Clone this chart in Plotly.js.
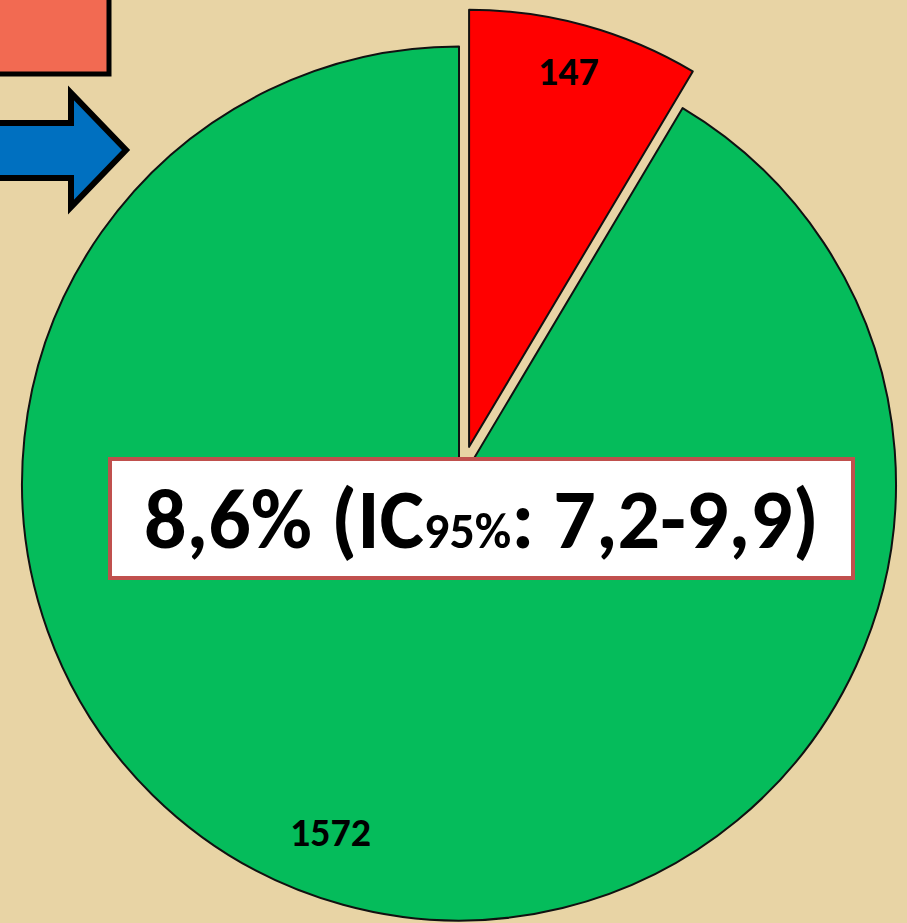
<!DOCTYPE html>
<html>
<head>
<meta charset="utf-8">
<script src="https://cdn.plot.ly/plotly-3.0.1.min.js"></script>
<style>
  html, body { margin:0; padding:0; width:907px; height:923px; overflow:hidden; background:#E8D4A5; }
  #chart { position:absolute; left:-20px; top:-20px; width:1000px; height:1000px; }
</style>
</head>
<body>
<div id="chart"></div>
<script>
// ---- data ----
var categories = ["Casos", "No casos"];
var counts = [147, 1572];
var sliceColors = ["#FF0000", "#05BC5B"];
var prevalence = 8.6;
var ciLow = 7.2;
var ciHigh = 9.9;
var ciLevel = "95%";

function fmt(v) { return v.toFixed(1).replace(".", ","); }

var PX = function (px) { return (px + 20) / 1000; };
var PY = function (py) { return 1 - (py + 20) / 1000; };

var labelFont = "Carlito, Calibri, 'Liberation Sans Narrow', 'Open Sans', sans-serif";

var trace = {
  type: "pie",
  labels: categories,
  values: counts,
  sort: false,
  direction: "clockwise",
  rotation: 0,
  pull: [0.087, 0],
  textinfo: "none",
  hoverinfo: "skip",
  showlegend: false,
  marker: { colors: sliceColors, line: { color: "#111", width: 2 } },
  domain: { x: [0.004, 0.954], y: [0.0215, 0.9715] }
};

var layout = {
  width: 1000, height: 1000,
  margin: { l: 0, r: 0, t: 0, b: 0 },
  paper_bgcolor: "#E8D4A5",
  plot_bgcolor: "#E8D4A5",
  showlegend: false,
  shapes: [
    { type: "rect", xref: "paper", yref: "paper", x0: PX(-10), x1: PX(109), y0: PY(74), y1: PY(-10),
      fillcolor: "#F26A52", line: { color: "#000", width: 5 } },
    { type: "path", xref: "paper", yref: "paper",
      path: "M " + PX(-10) + "," + PY(123) + " L " + PX(71) + "," + PY(123) + " L " + PX(71) + "," + PY(93) +
            " L " + PX(126) + "," + PY(150) + " L " + PX(71) + "," + PY(207) + " L " + PX(71) + "," + PY(178) +
            " L " + PX(-10) + "," + PY(178) + " Z",
      fillcolor: "#0070C0", line: { color: "#000", width: 6 } },
    { type: "rect", xref: "paper", yref: "paper", x0: PX(110), x1: PX(853), y0: PY(578), y1: PY(459),
      fillcolor: "#FFFFFF", line: { color: "#C0504D", width: 4 } }
  ],
  annotations: [
    { xref: "paper", yref: "paper", x: PX(568), y: PY(72), xanchor: "center", yanchor: "middle", showarrow: false,
      text: String(counts[0]), font: { family: labelFont, size: 40, color: "#000", weight: 700 } },
    { xref: "paper", yref: "paper", x: PX(330), y: PY(832), xanchor: "center", yanchor: "middle", showarrow: false,
      text: String(counts[1]), font: { family: labelFont, size: 40, color: "#000", weight: 700 } },
    { xref: "paper", yref: "paper", x: PX(481), y: PY(519), xanchor: "center", yanchor: "middle", showarrow: false,
      text: fmt(prevalence) + "% (IC<span style='font-size:50px'>" + ciLevel + "</span>: " + fmt(ciLow) + "-" + fmt(ciHigh) + ")",
      font: { family: labelFont, size: 84, color: "#000", weight: 700 } }
  ]
};

Plotly.newPlot("chart", [trace], layout, { displayModeBar: false, staticPlot: true });
</script>
</body>
</html>
